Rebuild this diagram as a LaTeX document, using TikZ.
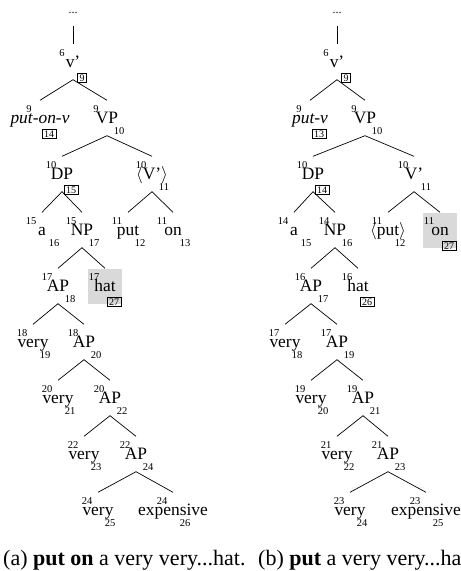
\documentclass[tikz,border=0pt]{standalone}
\usepackage{fontspec}
\setmainfont{Liberation Serif}
\usepackage{tikz}

\begin{document}
\begin{tikzpicture}[x=1pt, y=-1pt,
		node_style/.style={minimum height=35pt, minimum width=34pt, inner sep=0pt, text height=13pt, text depth=3pt, font=\fontsize{17.4pt}{20pt}\selectfont},
		hl_style/.style={node_style, fill=gray!30},
		dots_style/.style={node_style, font=\fontsize{12pt}{14pt}\selectfont},
		idx_style/.style={inner sep=0pt, font=\fontsize{10.5pt}{12pt}\selectfont},
		sup_idx/.style={label={[idx_style, xshift=-11pt, yshift=9pt]center:#1}},
		sub_idx/.style={label={[idx_style, xshift=12pt, yshift=-13pt]center:#1}},
		box_idx/.style={label={[idx_style, draw, line width=0.6pt, inner xsep=2pt, inner ysep=1pt, text height=7pt, text depth=0pt, font=\fontsize{10pt}{12pt}\selectfont, xshift=9pt, yshift=-15.5pt]center:#1}},
		cap_style/.style={anchor=base west, inner sep=0pt, font=\fontsize{22pt}{26pt}\selectfont},
		edge_style/.style={draw=black, line width=0.7pt}]
		\useasboundingbox (0,0) rectangle (461,571);
		% (a) put on
		\node[dots_style] (dotsA) at (73,8) {...};
		\node[node_style, sup_idx=6, box_idx=9] (vA) at (73,62) {v'};
		\node[node_style, sup_idx=9, box_idx=14] (putonv) at (40,118) {\textit{put-on-v}};
		\node[node_style, sup_idx=9, sub_idx=10] (vpA) at (107,118) {VP};
		\node[node_style, sup_idx=10, box_idx=15] (dpA) at (62,174) {DP};
		\node[node_style, sup_idx=10, sub_idx=11] (vbarA) at (152,174) {$\langle$V'$\rangle$};
		\node[node_style, sup_idx=15, sub_idx=16] (aA) at (42,230) {a};
		\node[node_style, sup_idx=15, sub_idx=17] (npA) at (82,230) {NP};
		\node[node_style, sup_idx=11, sub_idx=12] (putA) at (128,230) {put};
		\node[node_style, sup_idx=11, sub_idx=13] (onA) at (173,230) {on};
		\node[node_style, sup_idx=17, sub_idx=18] (apA1) at (58,286) {AP};
		\node[hl_style, sup_idx=17, box_idx=27] (hatA) at (105,286) {hat};
		\node[node_style, sup_idx=18, sub_idx=19] (veryA1) at (33,342) {very};
		\node[node_style, sup_idx=18, sub_idx=20] (apA2) at (84,342) {AP};
		\node[node_style, sup_idx=20, sub_idx=21] (veryA2) at (58,398) {very};
		\node[node_style, sup_idx=20, sub_idx=22] (apA3) at (110,398) {AP};
		\node[node_style, sup_idx=22, sub_idx=23] (veryA3) at (84,454) {very};
		\node[node_style, sup_idx=22, sub_idx=24] (apA4) at (136,454) {AP};
		\node[node_style, sup_idx=24, sub_idx=25] (veryA4) at (98,510) {very};
		\node[node_style, sup_idx=24, sub_idx=26] (expA) at (173,510) {expensive};
		\draw[edge_style] (dotsA.south) -- (vA.north);
		\draw[edge_style] (vA.south) -- (putonv.north);
		\draw[edge_style] (vA.south) -- (vpA.north);
		\draw[edge_style] (vpA.south) -- (dpA.north);
		\draw[edge_style] (vpA.south) -- (vbarA.north);
		\draw[edge_style] (dpA.south) -- (aA.north);
		\draw[edge_style] (dpA.south) -- (npA.north);
		\draw[edge_style] (vbarA.south) -- (putA.north);
		\draw[edge_style] (vbarA.south) -- (onA.north);
		\draw[edge_style] (npA.south) -- (apA1.north);
		\draw[edge_style] (npA.south) -- (hatA.north);
		\draw[edge_style] (apA1.south) -- (veryA1.north);
		\draw[edge_style] (apA1.south) -- (apA2.north);
		\draw[edge_style] (apA2.south) -- (veryA2.north);
		\draw[edge_style] (apA2.south) -- (apA3.north);
		\draw[edge_style] (apA3.south) -- (veryA3.north);
		\draw[edge_style] (apA3.south) -- (apA4.north);
		\draw[edge_style] (apA4.south) -- (veryA4.north);
		\draw[edge_style] (apA4.south) -- (expA.north);
		% (b) put
		\node[dots_style] (dotsB) at (337,8) {...};
		\node[node_style, sup_idx=6, box_idx=9] (vB) at (337,62) {v'};
		\node[node_style, sup_idx=9, box_idx=13] (putv) at (310,118) {\textit{put-v}};
		\node[node_style, sup_idx=9, sub_idx=10] (vpB) at (365,118) {VP};
		\node[node_style, sup_idx=10, box_idx=14] (dpB) at (313,174) {DP};
		\node[node_style, sup_idx=10, sub_idx=11] (vbarB) at (414,174) {V'};
		\node[node_style, sup_idx=14, sub_idx=15] (aB) at (294,230) {a};
		\node[node_style, sup_idx=14, sub_idx=16] (npB) at (335,230) {NP};
		\node[node_style, sup_idx=11, sub_idx=12] (putB) at (388,230) {$\langle$put$\rangle$};
		\node[hl_style, sup_idx=11, box_idx=27] (onB) at (440,230) {on};
		\node[node_style, sup_idx=16, sub_idx=17] (apB1) at (311,286) {AP};
		\node[node_style, sup_idx=16, box_idx=26] (hatB) at (358,286) {hat};
		\node[node_style, sup_idx=17, sub_idx=18] (veryB1) at (285,342) {very};
		\node[node_style, sup_idx=17, sub_idx=19] (apB2) at (337,342) {AP};
		\node[node_style, sup_idx=19, sub_idx=20] (veryB2) at (311,398) {very};
		\node[node_style, sup_idx=19, sub_idx=21] (apB3) at (363,398) {AP};
		\node[node_style, sup_idx=21, sub_idx=22] (veryB3) at (337,454) {very};
		\node[node_style, sup_idx=21, sub_idx=23] (apB4) at (388,454) {AP};
		\node[node_style, sup_idx=23, sub_idx=24] (veryB4) at (350,510) {very};
		\node[node_style, sup_idx=23, sub_idx=25] (expB) at (426,510) {expensive};
		\draw[edge_style] (dotsB.south) -- (vB.north);
		\draw[edge_style] (vB.south) -- (putv.north);
		\draw[edge_style] (vB.south) -- (vpB.north);
		\draw[edge_style] (vpB.south) -- (dpB.north);
		\draw[edge_style] (vpB.south) -- (vbarB.north);
		\draw[edge_style] (dpB.south) -- (aB.north);
		\draw[edge_style] (dpB.south) -- (npB.north);
		\draw[edge_style] (vbarB.south) -- (putB.north);
		\draw[edge_style] (vbarB.south) -- (onB.north);
		\draw[edge_style] (npB.south) -- (apB1.north);
		\draw[edge_style] (npB.south) -- (hatB.north);
		\draw[edge_style] (apB1.south) -- (veryB1.north);
		\draw[edge_style] (apB1.south) -- (apB2.north);
		\draw[edge_style] (apB2.south) -- (veryB2.north);
		\draw[edge_style] (apB2.south) -- (apB3.north);
		\draw[edge_style] (apB3.south) -- (veryB3.north);
		\draw[edge_style] (apB3.south) -- (apB4.north);
		\draw[edge_style] (apB4.south) -- (veryB4.north);
		\draw[edge_style] (apB4.south) -- (expB.north);
		% captions
		\node[cap_style] (capA) at (3,565) {(a) \textbf{put on} a very very...hat.};
		\node[cap_style] (capB) at (258,565) {(b) \textbf{put} a very very...hat.};
		\end{tikzpicture}
\end{document}
